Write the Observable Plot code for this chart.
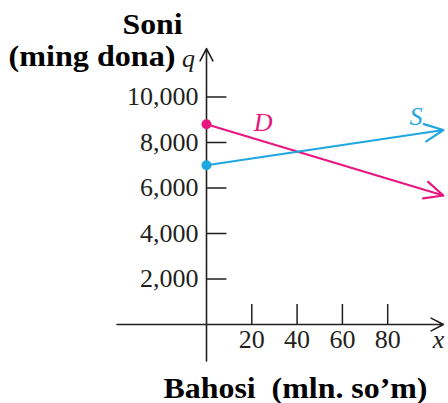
<!DOCTYPE html>
<html>
<head>
<meta charset="utf-8">
<script src="https://cdn.jsdelivr.net/npm/d3@7"></script>
<script src="https://cdn.jsdelivr.net/npm/@observablehq/plot@0.6"></script>
<style>
  html, body { margin: 0; padding: 0; background: #fff; }
  #chart svg { display: block; }
</style>
</head>
<body>
<div id="chart"></div>
<script>
// ---- data ----
const priceTicks = [20, 40, 60, 80];              // x axis (Bahosi, mln. so'm)
const qtyTicks = [2000, 4000, 6000, 8000, 10000]; // y axis (Soni, ming dona)
const seriesNames = ["D", "S"];
const seriesColors = ["#e8177f", "#1ea7e1"];
const startPrice = [0, 0];
const startQty = [8800, 7000];
const endPrice = [104.6, 104.6];
const endQty = [5670, 8550];
const labelPrice = [25, 92.5];
const labelQty = [8880, 9120];
// axis extents (data units)
const xAxisExtent = [-39.5, 104.6];
const yAxisExtent = [-1600, 12130];
// axis titles
const yTitle = ["Soni", "(ming dona)"];
const xTitle = "Bahosi  (mln. so\u2019m)";

const lines = seriesNames.map((name, i) => ({
  name, color: seriesColors[i],
  x1: startPrice[i], y1: startQty[i], x2: endPrice[i], y2: endQty[i],
  lx: labelPrice[i], ly: labelQty[i]
}));

const serif = "'Liberation Serif', 'Times New Roman', serif";
const ink = "#231f20";

const chart = Plot.plot({
  width: 448,
  height: 403,
  margin: 0,
  style: { background: "#fff", overflow: "visible" },
  x: { domain: [0, 100], range: [206, 432.5], axis: null },
  y: { domain: [0, 10000], range: [324, 96.5], axis: null },
  marks: [
    // axes with arrows
    Plot.arrow([0], { x1: xAxisExtent[0], x2: xAxisExtent[1], y1: 0, y2: 0,
      stroke: ink, strokeWidth: 1.6, headLength: 13, headAngle: 55 }),
    Plot.arrow([0], { x1: 0, x2: 0, y1: yAxisExtent[0], y2: yAxisExtent[1],
      stroke: ink, strokeWidth: 1.6, headLength: 13, headAngle: 55 }),
    // y ticks (pointing right)
    Plot.ruleY(qtyTicks, { y: d => d, x1: 0, x2: 9, stroke: ink, strokeWidth: 1.5 }),
    Plot.text(qtyTicks, { x: 0, y: d => d, text: d => d3.format(",")(d), textAnchor: "end",
      dx: -8, fontFamily: serif, fontSize: 26, fill: ink }),
    // x ticks (pointing up)
    Plot.ruleX(priceTicks, { x: d => d, y1: 0, y2: 880, stroke: ink, strokeWidth: 1.5 }),
    Plot.text(priceTicks, { x: d => d, y: 0, text: d => String(d), dy: 15,
      fontFamily: serif, fontSize: 26, fill: ink }),
    // demand & supply lines
    Plot.arrow(lines, { x1: "x1", y1: "y1", x2: "x2", y2: "y2", stroke: "color",
      strokeWidth: 2.2, headLength: 14, headAngle: 50 }),
    Plot.dot(lines, { x: "x1", y: "y1", fill: "color", r: 5 }),
    Plot.text(lines, { x: "lx", y: "ly", text: "name", fill: "color",
      fontFamily: serif, fontStyle: "italic", fontSize: 26 }),
    // axis letters
    Plot.text(["q"], { x: 0, y: yAxisExtent[1], text: d => d, dx: -18, dy: 10,
      fontFamily: serif, fontStyle: "italic", fontSize: 26, fill: ink }),
    Plot.text(["x"], { x: xAxisExtent[1], y: 0, text: d => d, dx: -5, dy: 15,
      fontFamily: serif, fontStyle: "italic", fontSize: 26, fill: ink }),
    // axis titles
    Plot.text([yTitle[0]], { frameAnchor: "top-left", text: d => d, dx: 122, dy: 13,
      fontFamily: serif, fontWeight: "bold", fontSize: 29, fill: "#000", className: "t-soni" }),
    Plot.text([yTitle[1]], { frameAnchor: "top-left", text: d => d, dx: 8, dy: 45,
      fontFamily: serif, fontWeight: "bold", fontSize: 29, fill: "#000", className: "t-ming" }),
    Plot.text([xTitle], { frameAnchor: "top-left", text: d => d, dx: 163, dy: 377,
      fontFamily: serif, fontWeight: "bold", fontSize: 29, fill: "#000", className: "t-bahosi" })
  ]
});
// stretch titles to the reference's wider lettering
const titleWidths = { "t-soni": 60, "t-ming": 167, "t-bahosi": 264 };
for (const [cls, w] of Object.entries(titleWidths)) {
  d3.select(chart).selectAll(`.${cls} text`)
    .attr("textLength", w).attr("lengthAdjust", "spacingAndGlyphs");
}
document.getElementById("chart").append(chart);
</script>
</body>
</html>
